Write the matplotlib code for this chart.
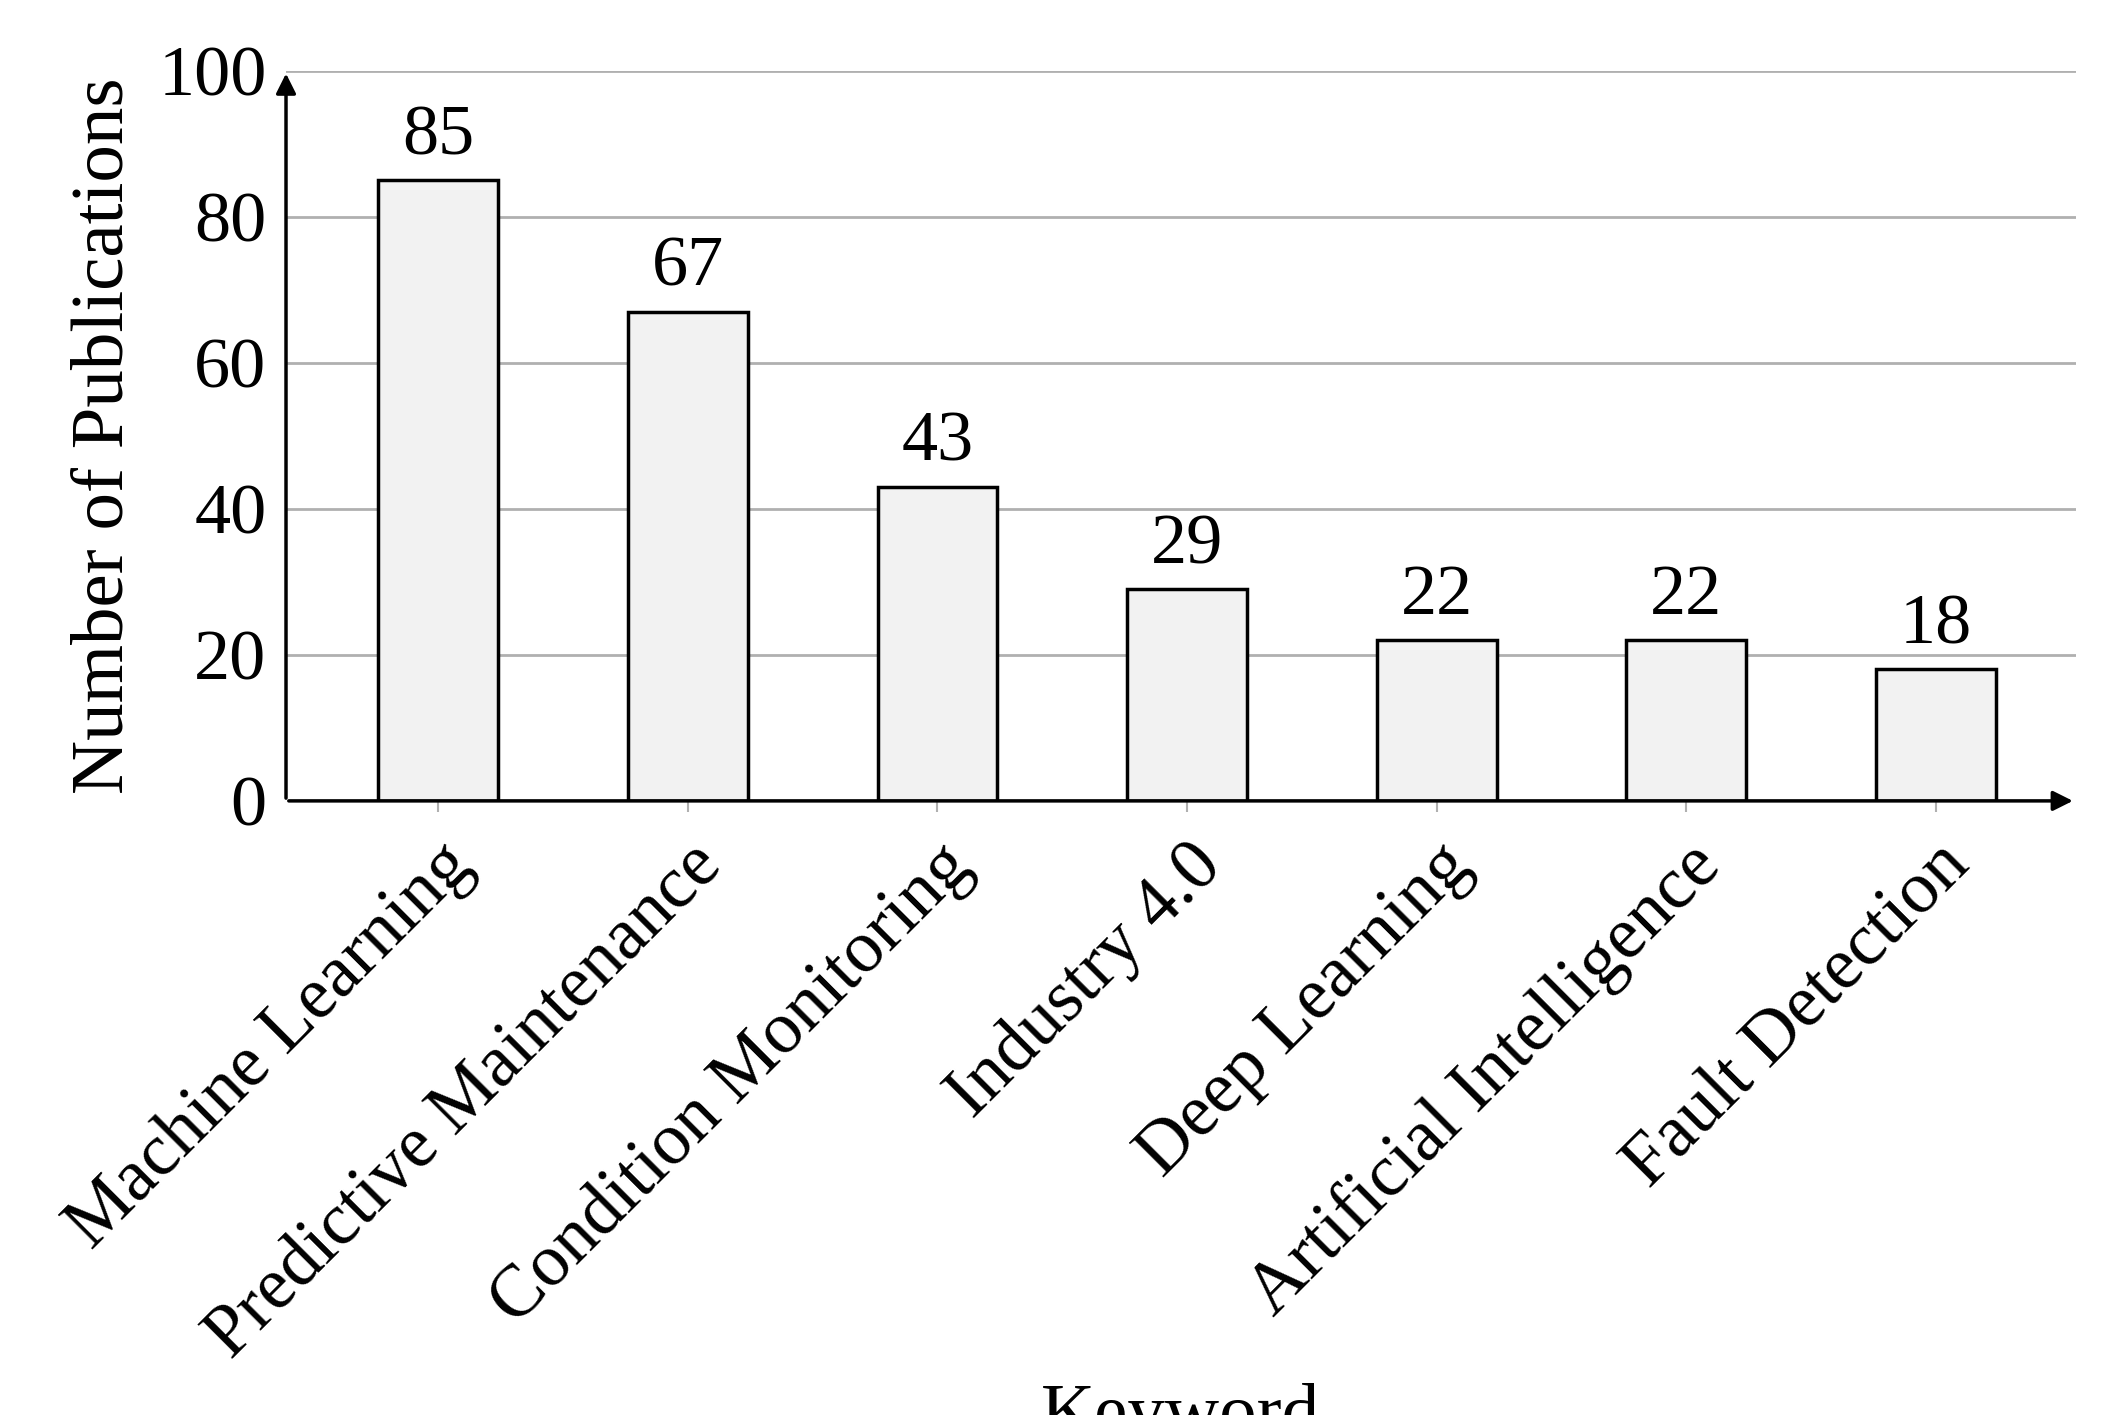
import matplotlib.pyplot as plt

keywords = ["Machine Learning", "Predictive Maintenance", "Condition Monitoring",
            "Industry 4.0", "Deep Learning", "Artificial Intelligence", "Fault Detection"]
counts = [85, 67, 43, 29, 22, 22, 18]
y_ticks = [0, 20, 40, 60, 80, 100]

plt.rcParams['font.family'] = ['Liberation Serif', 'DejaVu Serif']

fig = plt.figure(figsize=(21.03, 14.15), dpi=100)
ax = fig.add_axes([0.136, 0.434, 0.851, 0.516])

x = list(range(len(keywords)))
ax.set_axisbelow(True)
for t in y_ticks[1:]:
    ax.axhline(t, color="#b0b0b0", lw=2, zorder=0)
ax.bar(x, counts, width=0.48, color="#f2f2f2", edgecolor="black", linewidth=2.5, zorder=2)
for xi, c in zip(x, counts):
    ax.text(xi, c + 1.5, str(c), ha="center", va="bottom", fontsize=52)

ax.set_xlim(-0.61, 6.56)
ax.set_ylim(0, 100)
ax.set_yticks(y_ticks)
ax.set_yticklabels([str(t) for t in y_ticks], fontsize=52)
ax.set_xticks(x)
ax.set_xticklabels(keywords, rotation=45, ha="right", rotation_mode="anchor", fontsize=53)
ax.tick_params(axis="x", length=8, color="#b0b0b0", width=1.5, pad=14)
ax.tick_params(axis="y", length=0, pad=14)

for s in ["top", "right", "left", "bottom"]:
    ax.spines[s].set_visible(False)
ax.annotate("", xy=(6.56, 0), xytext=(-0.61, 0),
            arrowprops=dict(arrowstyle="-|>", lw=2.5, color="black", mutation_scale=30),
            annotation_clip=False, zorder=5)
ax.annotate("", xy=(-0.61, 100), xytext=(-0.61, 0),
            arrowprops=dict(arrowstyle="-|>", lw=2.5, color="black", mutation_scale=30),
            annotation_clip=False, zorder=5)

ax.set_ylabel("Number of Publications", fontsize=54, labelpad=14)
ax.set_xlabel("Keyword", fontsize=54, labelpad=8)

fig.savefig("out.png", dpi=100)
